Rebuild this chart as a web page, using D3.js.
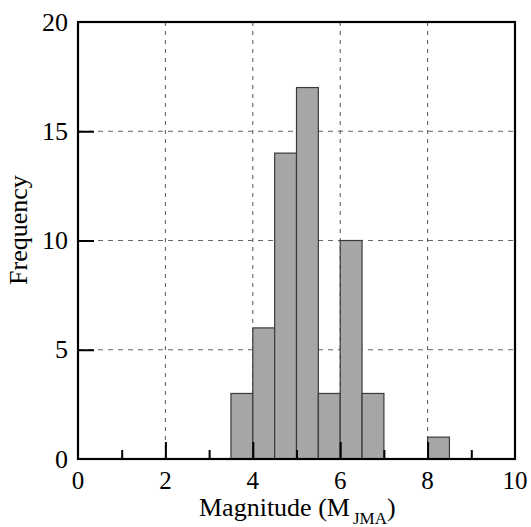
<!doctype html>
<html>
<head>
    <meta charset="utf-8">
    <title>Magnitude histogram</title>
    <script src="https://d3js.org/d3.v7.min.js"></script>
    <style>
        body { margin: 0; background: #fff; }
        svg { display: block; }
        svg text { font-family: "Liberation Serif", "Times New Roman", Times, serif; }
    </style>
</head>
<body>
    <div id="viz"></div>
    <script>
        // histogram bins (lower edge of each 0.5 bin) and counts
        var binStarts = [3.5, 4, 4.5, 5, 5.5, 6, 6.5, 8];
        var counts = [3, 6, 14, 17, 3, 10, 3, 1];
        var binWidth = 0.5;
        var xTicks = [0, 2, 4, 6, 8, 10];
        var xMinor = [1, 3, 5, 7, 9];
        var yTicks = [0, 5, 10, 15, 20];

        var W = 531, H = 527;
        var plotL = 78, plotR = 515, plotT = 22, plotB = 459;
        var serif = "Liberation Serif, Times New Roman, serif";

        var svg = d3.select("#viz").append("svg")
            .attr("width", W)
            .attr("height", H);

        var x = d3.scaleLinear().domain([0, 10]).range([plotL, plotR]);
        var y = d3.scaleLinear().domain([0, 20]).range([plotB, plotT]);

        // grid lines
        svg.append("g").selectAll("line")
            .data(xTicks.filter(d => d > 0 && d < 10))
            .enter().append("line")
            .attr("x1", d => x(d)).attr("x2", d => x(d))
            .attr("y1", plotT).attr("y2", plotB)
            .attr("stroke", "#555")
            .attr("stroke-width", 1)
            .attr("stroke-dasharray", "4,5");

        svg.append("g").selectAll("line")
            .data(yTicks.filter(d => d > 0 && d < 20))
            .enter().append("line")
            .attr("x1", plotL).attr("x2", plotR)
            .attr("y1", d => y(d)).attr("y2", d => y(d))
            .attr("stroke", "#666")
            .attr("stroke-width", 1)
            .attr("stroke-dasharray", "5,5");

        // bars
        svg.append("g").selectAll("rect")
            .data(binStarts)
            .enter().append("rect")
            .attr("x", d => x(d))
            .attr("width", d => x(d + binWidth) - x(d))
            .attr("y", (d, i) => y(counts[i]))
            .attr("height", (d, i) => y(0) - y(counts[i]))
            .attr("fill", "#a6a6a6")
            .attr("stroke", "#3a3a3a")
            .attr("stroke-width", 1.2);

        // ticks
        var xAxis = d3.axisBottom(x).tickValues(xTicks.filter(d => d > 0 && d < 10)).tickSize(-17).tickFormat("");
        svg.append("g").attr("transform", "translate(0," + plotB + ")").call(xAxis)
            .call(g => g.select(".domain").remove())
            .selectAll("line").attr("stroke", "#000").attr("stroke-width", 2);

        var xAxisMinor = d3.axisBottom(x).tickValues(xMinor).tickSize(-9).tickFormat("");
        svg.append("g").attr("transform", "translate(0," + plotB + ")").call(xAxisMinor)
            .call(g => g.select(".domain").remove())
            .selectAll("line").attr("stroke", "#000").attr("stroke-width", 2);

        var yAxis = d3.axisLeft(y).tickValues(yTicks.filter(d => d > 0 && d < 20)).tickSize(-16).tickFormat("");
        svg.append("g").attr("transform", "translate(" + plotL + ",0)").call(yAxis)
            .call(g => g.select(".domain").remove())
            .selectAll("line").attr("stroke", "#000").attr("stroke-width", 2);

        // frame
        svg.append("rect")
            .attr("x", plotL).attr("y", plotT)
            .attr("width", plotR - plotL).attr("height", plotB - plotT)
            .attr("fill", "none")
            .attr("stroke", "#000")
            .attr("stroke-width", 2.2);

        // tick labels
        svg.append("g").selectAll("text")
            .data(xTicks)
            .enter().append("text")
            .attr("x", d => x(d))
            .attr("y", 489)
            .attr("text-anchor", "middle")
            .attr("font-family", serif)
            .attr("font-size", 25)
            .text(d => d);

        svg.append("g").selectAll("text")
            .data(yTicks)
            .enter().append("text")
            .attr("x", 68)
            .attr("y", d => y(d))
            .attr("dy", "0.33em")
            .attr("text-anchor", "end")
            .attr("font-family", serif)
            .attr("font-size", 26)
            .text(d => d);

        // axis titles
        var xl = svg.append("text")
            .attr("x", 199)
            .attr("y", 516)
            .attr("font-family", serif)
            .attr("font-size", 26);
        xl.append("tspan").text("Magnitude (M");
        xl.append("tspan").attr("dy", 8).attr("dx", 3).attr("font-size", 17).text("JMA");
        xl.append("tspan").attr("dy", -8).text(")");

        svg.append("text")
            .attr("transform", "translate(27,230) rotate(-90)")
            .attr("text-anchor", "middle")
            .attr("font-family", serif)
            .attr("font-size", 26)
            .text("Frequency");
    </script>
</body>
</html>
